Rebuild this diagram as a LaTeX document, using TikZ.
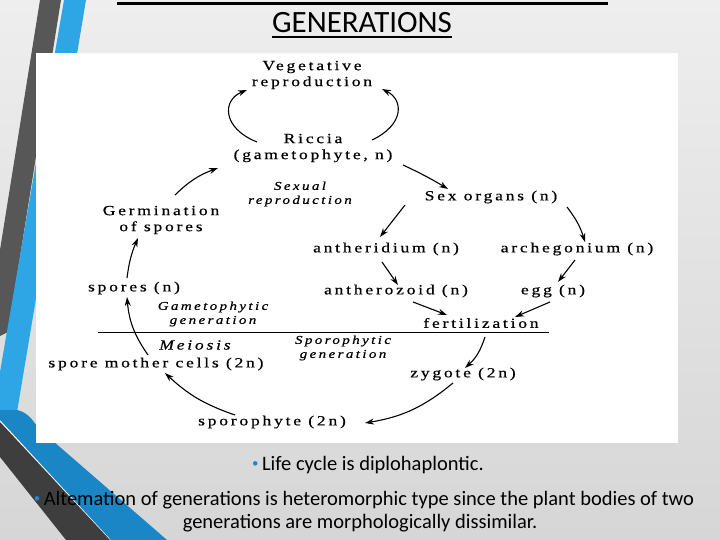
\documentclass[tikz,border=0pt]{standalone}
\usepackage{fontspec}
\setmainfont{Carlito}
\newfontfamily\diagfont[LetterSpace=20,FakeStretch=1.25,FakeBold=0.6]{Liberation Serif}
\usetikzlibrary{arrows.meta}
\definecolor{bgtop}{HTML}{EEEEEE}
\definecolor{bgbot}{HTML}{D6D6D6}
\definecolor{darkband}{HTML}{575757}
\definecolor{darkbandb}{HTML}{3E3E3E}
\definecolor{blueband}{HTML}{2EA6E6}
\definecolor{bluebandb}{HTML}{1A86C6}
\definecolor{bulblue}{HTML}{1C8AD0}
\newcommand{\bul}{\textcolor{bulblue}{\raisebox{0.3ex}{\fontsize{13}{13}\selectfont •}}}
\begin{document}
\begin{tikzpicture}[x=1pt,y=-1pt,
  lab/.style={font=\diagfont\fontsize{14}{16}\selectfont, inner sep=0pt, align=center},
  ilab/.style={font=\diagfont\itshape\fontsize{12}{14}\selectfont, inner sep=0pt, align=center},
  txt/.style={font=\fontsize{20.5}{24}\selectfont, inner sep=0pt},
  arr/.style={-{Stealth[length=9pt,width=6pt]}, line width=1.1pt}]
\useasboundingbox (0,0) rectangle (720,540);
% background
\shade[top color=bgtop, bottom color=bgbot] (0,0) rectangle (720,540);
% decorative bands
\fill[darkband] (40,0) -- (61,0) -- (8,332) -- (0,336) -- (0,250) -- cycle;
\fill[blueband] (64,0) -- (86,0) -- (17,412) -- (0,412) -- (0,372) -- cycle;
\fill[bluebandb] (0,410) -- (17,410) .. controls (26,412) and (32,418) .. (38,428) -- (167,540) -- (110,540) -- (0,421) -- cycle;
\draw[white, line width=1.2pt] (0,421) -- (110,540);
\fill[darkbandb] (0,422) -- (110,540) -- (66,540) -- (0,457) -- cycle;
% card
\fill[white] (36,53) rectangle (678,443);
% title
\draw[line width=3pt] (117,3.5) -- (608,3.5);
\node[inner sep=0pt, font=\fontsize{31}{34}\selectfont] (title) at (362,23) {GENERATIONS};
\draw[line width=1.8pt] ([yshift=-4pt]title.base west) -- ([yshift=-4pt]title.base east);
% diagram labels
\node[lab] (veg) at (312,75) {Vegetative\\reproduction};
\node[lab] (ric) at (313,148) {Riccia\\(gametophyte, n)};
\node[ilab] (sexr) at (300,194) {Sexual\\reproduction};
\node[lab] (sexo) at (491,197) {Sex organs (n)};
\node[lab] (germ) at (161,220) {Germination\\of spores};
\node[lab] (anth) at (386,249) {antheridium (n)};
\node[lab] (arch) at (577,249) {archegonium (n)};
\node[lab] (antz) at (396,291) {antherozoid (n)};
\node[lab] (egg) at (553,291) {egg (n)};
\node[lab] (spo) at (134,288) {spores (n)};
\node[ilab] (gamg) at (213,314) {Gametophytic\\generation};
\node[lab] (fert) at (481,323) {fertilization};
\node[ilab, font=\diagfont\itshape\fontsize{14}{16}\selectfont] (mei) at (195,345) {Meiosis};
\node[ilab] (spog) at (343,348) {Sporophytic\\generation};
\node[lab] (smc) at (156,364) {spore mother cells (2n)};
\node[lab] (zyg) at (463,374) {zygote (2n)};
\node[lab] (spph) at (272,422) {sporophyte (2n)};
% dividing line
\coordinate (divl) at (98,332);
\coordinate (divr) at (549,332);
\draw[line width=0.8pt] (divl) -- (divr);
% arrow end points
\coordinate (vlS) at (257,142); \coordinate (vlE) at (247,90);
\coordinate (vrS) at (372,140); \coordinate (vrE) at (382,89);
\coordinate (grS) at (175,195); \coordinate (grE) at (218,168);
\coordinate (rsS) at (403,165); \coordinate (rsE) at (448,189);
\coordinate (saS) at (405,205); \coordinate (saE) at (380,237);
\coordinate (sbS) at (567,207); \coordinate (sbE) at (585,242);
\coordinate (aaS) at (382,262); \coordinate (aaE) at (398,285);
\coordinate (aeS) at (575,260); \coordinate (aeE) at (558,282);
\coordinate (afS) at (413,302); \coordinate (afE) at (447,315);
\coordinate (efS) at (550,302); \coordinate (efE) at (515,317);
\coordinate (fzS) at (485,337); \coordinate (fzE) at (465,368);
\coordinate (zsS) at (453,383); \coordinate (zsE) at (365,423);
\coordinate (smS) at (235,415); \coordinate (smE) at (165,373);
\coordinate (mpS) at (148,355); \coordinate (mpE) at (127,297);
\coordinate (pgS) at (127,278); \coordinate (pgE) at (138,238);
% arrows
\draw[arr] (vlS) .. controls (222,128) and (222,100) .. (vlE);
\draw[arr] (vrS) .. controls (404,125) and (404,100) .. (vrE);
\draw[arr] (grS) to[bend left=12] (grE);
\draw[arr] (rsS) to[bend left=3] (rsE);
\draw[arr] (saS) -- (saE);
\draw[arr] (sbS) to[bend left=10] (sbE);
\draw[arr] (aaS) -- (aaE);
\draw[arr] (aeS) -- (aeE);
\draw[arr] (afS) -- (afE);
\draw[arr] (efS) -- (efE);
\draw[arr] (fzS) to[bend left=15] (fzE);
\draw[arr] (zsS) to[bend left=15] (zsE);
\draw[arr] (smS) to[bend left=12] (smE);
\draw[arr] (mpS) to[bend left=15] (mpE);
\draw[arr] (pgS) to[bend left=8] (pgE);
% bullet text
\node[txt] (b1) at (368,465) {\bul\,Life cycle is diplohaplontic.};
\node[txt] (b2) at (364,500) {\bul\,Altemation of generations is heteromorphic type since the plant bodies of two};
\node[txt] (b3) at (360,523) {generations are morphologically dissimilar.};
\end{tikzpicture}
\end{document}
